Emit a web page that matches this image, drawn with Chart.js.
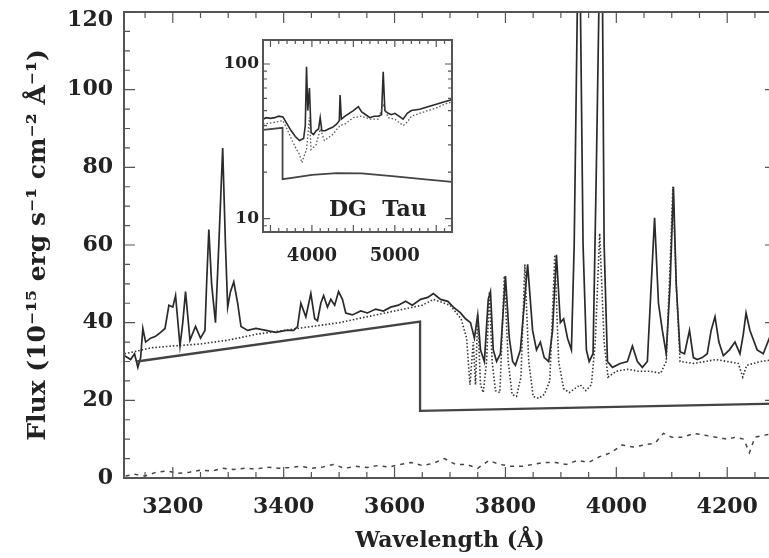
<!DOCTYPE html>
<html>
<head>
<meta charset="utf-8">
<script src="https://cdn.jsdelivr.net/npm/chart.js@4"></script>
<style>
  html, body { margin: 0; padding: 0; background: #fff; overflow: hidden; }
  #wrap { position: relative; width: 769px; height: 558px; overflow: hidden; }
  #mainChart { position: absolute; left: 0; top: 0; }
  #insetChart { position: absolute; left: 222px; top: 30px; }
  #dgtau { position: absolute; left: 329px; top: 195px; font: bold 22px "DejaVu Serif", serif; color: #222; white-space: pre; }
</style>
</head>
<body>
<div id="wrap">
  <canvas id="mainChart" width="800" height="558"></canvas>
  <canvas id="insetChart" width="245" height="245"></canvas>
  <div id="dgtau">DG  Tau</div>
</div>
<script>
/* ============= Data ============= */
// observed spectrum, solid
var obsWave = [3113, 3124, 3131, 3137, 3142, 3146, 3151, 3160, 3169, 3178, 3186, 3193, 3200, 3205, 3213, 3218, 3223, 3231, 3241, 3250, 3258, 3261, 3265, 3270, 3277, 3283, 3290, 3295, 3299, 3304, 3310, 3317, 3323, 3335, 3350, 3368, 3386, 3404, 3418, 3425, 3431, 3440, 3449, 3456, 3461, 3467, 3472, 3479, 3485, 3492, 3499, 3506, 3512, 3524, 3539, 3551, 3566, 3580, 3593, 3607, 3620, 3632, 3647, 3660, 3670, 3683, 3696, 3706, 3719, 3728, 3737, 3744, 3750, 3755, 3762, 3769, 3773, 3778, 3784, 3791, 3800, 3807, 3813, 3818, 3827, 3840, 3849, 3856, 3863, 3870, 3878, 3885, 3892, 3899, 3905, 3912, 3919, 3924, 3930, 3935, 3940, 3946, 3951, 3958, 3964, 3969, 3975, 3978, 3984, 3993, 4007, 4020, 4029, 4038, 4047, 4056, 4063, 4069, 4076, 4083, 4090, 4097, 4103, 4108, 4115, 4123, 4132, 4139, 4146, 4155, 4164, 4171, 4178, 4185, 4193, 4204, 4214, 4223, 4229, 4234, 4241, 4254, 4265, 4276, 4290, 4310];
var obsFlux = [31.5, 30.5, 32, 28.5, 31, 38.5, 35, 36, 36.5, 37.5, 38.5, 44.5, 44, 47, 34, 40, 48, 35.5, 39, 36, 38, 50, 64, 50, 40, 60, 85, 60, 44, 48, 50.5, 45, 39, 38, 38.5, 38, 37.5, 38, 38, 39, 45, 41.5, 47.5, 41, 40.5, 45, 47, 44, 46, 44.5, 48, 46, 42.5, 42, 43, 42.5, 43.5, 43, 44, 44.5, 45.5, 44.5, 46, 46.5, 47.5, 46, 45.5, 44, 42.5, 41, 40, 36, 42, 33, 30, 46, 48, 33, 30, 32, 52, 36, 30, 29, 33, 55, 38, 33, 35, 31, 30, 38, 57.5, 40, 41, 36, 33, 60, 125, 125, 60, 33, 30, 32, 80, 125, 125, 60, 30, 28.5, 29.5, 30, 34, 30, 28.5, 30, 50, 67, 45, 38, 32, 50, 75, 50, 32.5, 32, 38, 31, 30.5, 31, 32, 38, 41.5, 35, 31.5, 33, 35, 32, 37, 42.5, 38, 33, 32, 36, 35, 34];

// model spectrum, dotted
var fitWave = [3113, 3130, 3160, 3200, 3250, 3300, 3350, 3400, 3450, 3500, 3550, 3600, 3650, 3670, 3700, 3720, 3730, 3736, 3742, 3746, 3750, 3755, 3760, 3766, 3771, 3776, 3782, 3790, 3798, 3805, 3812, 3820, 3828, 3835, 3842, 3850, 3860, 3870, 3880, 3889, 3896, 3905, 3915, 3925, 3935, 3945, 3955, 3962, 3970, 3978, 3985, 4000, 4020, 4040, 4060, 4080, 4090, 4097, 4102, 4108, 4115, 4140, 4160, 4180, 4200, 4220, 4228, 4235, 4260, 4310];
var fitFlux = [32, 32.5, 33.5, 34, 34.5, 35.5, 37, 38, 39, 40, 41.5, 43, 44.5, 46, 44.5, 41, 36, 24, 35, 24, 42, 24, 22, 30, 48, 30, 22.5, 22, 52, 30, 21.5, 21, 26, 55, 30, 21, 20.5, 21.5, 25, 57.5, 30, 23, 22, 23, 24, 22.5, 24, 35, 63, 35, 26, 27.5, 28, 27.5, 27.5, 27, 30, 55, 75, 50, 30, 29.5, 30, 30.5, 30, 29.5, 26, 29, 30, 31];

// photosphere + veiling step, thick solid
var stepWave = [3135, 3646, 3646, 4310];
var stepFlux = [30, 40.3, 17.3, 19.2];

// residual, dashed
var resWave = [3115, 3130, 3150, 3170, 3190, 3210, 3230, 3250, 3270, 3290, 3310, 3330, 3350, 3370, 3390, 3410, 3430, 3450, 3470, 3490, 3510, 3530, 3550, 3570, 3590, 3610, 3630, 3650, 3670, 3690, 3710, 3730, 3750, 3770, 3790, 3810, 3830, 3850, 3870, 3890, 3910, 3930, 3950, 3970, 3990, 4010, 4030, 4050, 4070, 4085, 4100, 4120, 4140, 4160, 4180, 4200, 4215, 4230, 4240, 4250, 4265, 4290, 4310];
var resFlux = [0.5, 1, 0.5, 1.5, 1.8, 1.2, 1.5, 2, 1.8, 2.5, 2.2, 2.5, 2.3, 2.8, 2.5, 2.7, 3, 2.5, 2.8, 3.5, 2.5, 3, 2.7, 3.2, 2.8, 3.5, 4, 3.2, 3.8, 5, 3.5, 3.5, 2.5, 4.5, 3.5, 3, 3, 3.5, 4, 4, 3.5, 4.5, 4, 5.5, 6.5, 8.5, 8, 8.5, 9, 11.5, 10.5, 10.5, 11.5, 11, 10.5, 10, 10.5, 10, 6.5, 10.5, 11, 11.5, 11];

var xTickVals = [3200, 3400, 3600, 3800, 4000, 4200];
var yTickVals = [0, 20, 40, 60, 80, 100, 120];

// inset (log flux)
var insWave = [3410, 3450, 3500, 3550, 3600, 3650, 3700, 3750, 3800, 3850, 3900, 3920, 3935, 3950, 3970, 3990, 4020, 4050, 4080, 4100, 4120, 4160, 4200, 4250, 4300, 4330, 4340, 4355, 4400, 4450, 4500, 4560, 4600, 4650, 4700, 4750, 4800, 4840, 4860, 4880, 4920, 4960, 5000, 5050, 5100, 5150, 5200, 5300, 5400, 5500, 5600, 5700];
var insFlux = [44, 45, 44.5, 45, 46, 45.5, 41, 37, 34, 32, 33, 40, 96, 50, 70, 36, 35, 37, 38, 45, 37, 37, 38, 39, 41, 43, 63, 44, 46, 48, 50, 53, 49, 47, 45, 46, 46, 47, 89, 50, 48, 47, 48, 46, 44, 48, 50, 51, 53, 55, 57, 59];
var insFitWave = [3410, 3500, 3600, 3650, 3700, 3750, 3800, 3850, 3880, 3900, 3935, 3970, 3990, 4050, 4102, 4150, 4250, 4340, 4400, 4500, 4600, 4700, 4800, 4861, 4920, 5000, 5100, 5150, 5200, 5300, 5400, 5500, 5600, 5700];
var insFitFlux = [41, 41.5, 42.5, 43, 38, 33, 29, 26, 23, 25, 28, 45, 28, 30, 38, 32, 35, 40, 41, 45, 46, 44, 44, 55, 45, 44, 40, 42, 46, 48, 50, 52, 55, 57];
var insStepWave = [3410, 3646, 3646, 3800, 4000, 4300, 4600, 5000, 5400, 5700];
var insStepFlux = [37.5, 38.7, 18, 18.5, 19.2, 19.7, 19.6, 18.8, 17.9, 17.3];
var insXTicks = [4000, 5000];
var insYTicks = [10, 100];

/* ============= Helpers ============= */
function pairs(xs, ys) {
  var out = [];
  for (var i = 0; i < xs.length; i++) {
    out.push({x: xs[i], y: ys[i]});
  }
  return out;
}

function line(xs, ys, width, color, dash) {
  return {
    data: pairs(xs, ys),
    showLine: true,
    borderColor: color,
    borderWidth: width,
    borderDash: dash || [],
    pointRadius: 0,
    tension: 0,
    fill: false
  };
}

// IDL style box with inward ticks on all four sides
var frame = {
  id: 'frame',
  beforeDraw: function(chart) {
    var a = chart.chartArea, ctx = chart.ctx;
    ctx.save();
    ctx.fillStyle = '#fff';
    ctx.fillRect(a.left, a.top, a.right - a.left, a.bottom - a.top);
    ctx.restore();
  },
  afterDraw: function(chart, args, opts) {
    var a = chart.chartArea, ctx = chart.ctx;
    var xs = chart.scales.x, ys = chart.scales.y;
    ctx.save();
    ctx.strokeStyle = opts.color;
    ctx.lineWidth = opts.width;
    ctx.strokeRect(a.left, a.top, a.right - a.left, a.bottom - a.top);
    ctx.lineWidth = 1.2;
    ctx.beginPath();
    opts.xMinor.forEach(function(v) {
      var p = xs.getPixelForValue(v), len = opts.xMajor.indexOf(v) >= 0 ? opts.majLen : opts.minLen;
      if (p < a.left || p > a.right) return;
      ctx.moveTo(p, a.bottom); ctx.lineTo(p, a.bottom - len);
      ctx.moveTo(p, a.top); ctx.lineTo(p, a.top + len);
    });
    opts.yMinor.forEach(function(v) {
      var p = ys.getPixelForValue(v), len = opts.yMajor.indexOf(v) >= 0 ? opts.majLen : opts.minLen;
      if (p < a.top - 0.5 || p > a.bottom + 0.5) return;
      ctx.moveTo(a.left, p); ctx.lineTo(a.left + len, p);
      ctx.moveTo(a.right, p); ctx.lineTo(a.right - len, p);
    });
    ctx.stroke();
    ctx.restore();
  }
};

function range(lo, hi, step) {
  var r = [];
  for (var v = lo; v <= hi + 1e-9; v += step) r.push(Math.round(v * 1000) / 1000);
  return r;
}

function plain(v) { return String(v); }

// fixed axis sizes, and no extra room for the end labels
function fixX(h) {
  return function(s) { s.height = h; s.paddingLeft = 0; s.paddingRight = 0; };
}
function fixY(w) {
  return function(s) { s.width = w; s.paddingTop = 0; s.paddingBottom = 0; };
}

var serif = '"DejaVu Serif", serif';

/* ============= Main chart ============= */
var mainChart = new Chart(document.getElementById('mainChart'), {
  type: 'scatter',
  data: {
    datasets: [
      line(resWave, resFlux, 1.5, '#444', [4, 5]),
      line(stepWave, stepFlux, 2.3, '#444'),
      line(fitWave, fitFlux, 1.6, '#333', [1.5, 2]),
      line(obsWave, obsFlux, 1.7, '#2a2a2a')
    ]
  },
  options: {
    responsive: false,
    devicePixelRatio: 1,
    animation: false,
    layout: { padding: { top: 12, right: 24, left: 0, bottom: 0 } },
    plugins: {
      legend: { display: false },
      tooltip: { enabled: false },
      frame: {
        color: '#555', width: 2, majLen: 11, minLen: 6,
        xMajor: xTickVals, xMinor: range(3100, 4300, 50),
        yMajor: yTickVals, yMinor: range(0, 120, 5)
      }
    },
    scales: {
      x: {
        type: 'linear', min: 3112, max: 4288,
        afterBuildTicks: function(s) { s.ticks = xTickVals.map(function(v) { return {value: v}; }); },
        afterFit: fixX(80),
        grid: { display: false, drawTicks: false },
        border: { display: false },
        ticks: { color: '#222', padding: 16, callback: plain, font: { family: serif, size: 22, weight: 'bold' }, maxRotation: 0 },
        title: { display: true, text: 'Wavelength (Å)', color: '#222', padding: { top: 0 }, font: { family: serif, size: 22, weight: 'bold' } }
      },
      y: {
        min: 0, max: 120,
        afterBuildTicks: function(s) { s.ticks = yTickVals.map(function(v) { return {value: v}; }); },
        afterFit: fixY(124),
        grid: { display: false, drawTicks: false },
        border: { display: false },
        ticks: {
          color: '#222', padding: 11,
          // the top label sits a little below its tick, as in the original
          callback: function(v) { return v === 120 ? ['', '120'] : String(v); },
          font: function(c) {
            return { family: serif, size: 22, weight: 'bold', lineHeight: c.tick && c.tick.value === 120 ? '16px' : 1.2 };
          }
        },
        title: { display: true, text: 'Flux (10⁻¹⁵ erg s⁻¹ cm⁻² Å⁻¹)', color: '#222', padding: { top: 23, bottom: 0 }, font: { family: serif, size: 25, weight: 'bold' } }
      }
    }
  },
  plugins: [frame]
});

/* ============= Inset ============= */
var logMinor = [8, 9, 10, 20, 30, 40, 50, 60, 70, 80, 90, 100];
var insetChart = new Chart(document.getElementById('insetChart'), {
  type: 'scatter',
  data: {
    datasets: [
      line(insStepWave, insStepFlux, 1.8, '#444'),
      line(insFitWave, insFitFlux, 1.3, '#555', [1.5, 2]),
      line(insWave, insFlux, 1.6, '#2a2a2a')
    ]
  },
  options: {
    responsive: false,
    devicePixelRatio: 1,
    animation: false,
    layout: { padding: { top: 10, right: 15, left: 0, bottom: 0 } },
    plugins: {
      legend: { display: false },
      tooltip: { enabled: false },
      frame: {
        color: '#555', width: 2, majLen: 7, minLen: 4,
        xMajor: [3500, 4000, 4500, 5000, 5500], xMinor: range(3400, 5700, 100),
        yMajor: insYTicks, yMinor: logMinor
      }
    },
    scales: {
      x: {
        type: 'linear', min: 3410, max: 5690,
        afterBuildTicks: function(s) { s.ticks = insXTicks.map(function(v) { return {value: v}; }); },
        afterFit: fixX(43),
        grid: { display: false, drawTicks: false },
        border: { display: false },
        ticks: { color: '#222', padding: 14, callback: plain, font: { family: serif, size: 18, weight: 'bold' }, maxRotation: 0 }
      },
      y: {
        type: 'logarithmic', min: 8.2, max: 143,
        afterBuildTicks: function(s) { s.ticks = insYTicks.map(function(v) { return {value: v}; }); },
        afterFit: fixY(41),
        grid: { display: false, drawTicks: false },
        border: { display: false },
        ticks: { color: '#222', padding: 4, callback: plain, font: { family: serif, size: 17, weight: 'bold' } }
      }
    }
  },
  plugins: [frame]
});
</script>
</body>
</html>
